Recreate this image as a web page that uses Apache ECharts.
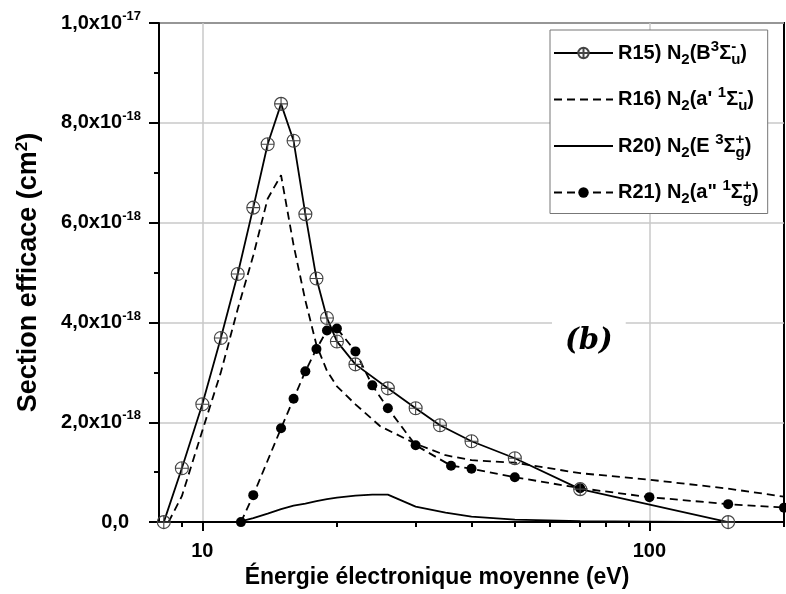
<!DOCTYPE html>
<html>
<head>
<meta charset="utf-8">
<script src="https://cdn.jsdelivr.net/npm/echarts@6/dist/echarts.min.js"></script>
<style>
  html, body { margin: 0; padding: 0; background: #fff; }
  #chart { width: 786px; height: 594px; }
</style>
</head>
<body>
<div id="chart"></div>
<script>
// energies (eV) and cross sections (units of 1e-18 cm2)
const r15E = [8.2, 9, 10, 11, 12, 13, 14, 15, 16, 17, 18, 19, 20, 22, 26, 30, 34, 40, 50, 70, 150];
const r15S = [0, 1.08, 2.36, 3.69, 4.97, 6.30, 7.57, 8.38, 7.64, 6.17, 4.88, 4.09, 3.62, 3.16, 2.68, 2.28, 1.94, 1.62, 1.28, 0.66, 0];

const r16E = [8.4, 9, 10, 11, 12, 13, 14, 15, 16, 17, 18, 19, 20, 22, 25, 30, 35, 40, 50, 70, 100, 150, 200];
const r16S = [0, 0.52, 1.83, 3.0, 4.27, 5.34, 6.48, 6.95, 5.55, 4.44, 3.55, 3.03, 2.72, 2.36, 1.92, 1.57, 1.34, 1.24, 1.19, 0.98, 0.85, 0.67, 0.51];

const r20E = [12, 13, 14, 15, 16, 17, 18, 19, 20, 22, 24, 26, 30, 35, 40, 50, 70, 100, 150, 200];
const r20S = [0, 0.08, 0.17, 0.26, 0.33, 0.37, 0.42, 0.46, 0.49, 0.53, 0.55, 0.55, 0.31, 0.19, 0.11, 0.05, 0.02, 0.01, 0, 0];

const r21E = [12.2, 13, 15, 16, 17, 18, 19, 20, 22, 24, 26, 30, 36, 40, 50, 70, 100, 150, 200];
const r21S = [0, 0.54, 1.88, 2.47, 3.02, 3.47, 3.84, 3.88, 3.42, 2.74, 2.28, 1.54, 1.13, 1.07, 0.90, 0.68, 0.50, 0.36, 0.29];

const xMajor = [10, 100];
const xMinor = [9, 20, 30, 40, 50, 60, 70, 80, 90, 200];

const legendText = {
  R15: '{t|R15) N}{sb|2}{t|(B}{sp|3}{t|Σ}{sp0|-}{sb|u}{t|)}',
  R16: "{t|R16) N}{sb|2}{t|(a' }{sp|1}{t|Σ}{sp0|-}{sb|u}{t|)}",
  R20: '{t|R20) N}{sb|2}{t|(E }{sp|3}{t|Σ}{sp0|+}{sb|g}{t|)}',
  R21: '{t|R21) N}{sb|2}{t|(a" }{sp|1}{t|Σ}{sp0|+}{sb|g}{t|)}'
};

function pairs(xs, ys) {
  return xs.map((x, i) => [x, ys[i]]);
}

const FONT = 'Liberation Sans';
const circlePlus = 'path://M10,0A10,10,0,1,1,10,20A10,10,0,1,1,10,0ZM10,0L10,20M0,10L20,10';

var myChart = echarts.init(document.getElementById('chart'));
var option = {
  animation: false,
  backgroundColor: '#fff',
  grid: {
    left: 159, right: 2, top: 23, bottom: 67,
    show: true, borderColor: '#000', borderWidth: 2
  },
  legend: {
    orient: 'vertical',
    left: 550, top: 30,
    padding: [9, 9, 7, 3],
    itemGap: 18.5,
    itemWidth: 59,
    itemHeight: 13,
    borderColor: '#777',
    borderWidth: 1,
    backgroundColor: '#fff',
    data: ['R15', 'R16', 'R20', 'R21'],
    formatter: name => legendText[name],
    textStyle: {
      color: '#000',
      rich: {
        t: { fontFamily: FONT, fontSize: 20, fontWeight: 'bold', lineHeight: 28, color: '#000' },
        sb: { fontFamily: FONT, fontSize: 15, fontWeight: 'bold', lineHeight: 14, verticalAlign: 'bottom', color: '#000' },
        sp: { fontFamily: FONT, fontSize: 15, fontWeight: 'bold', lineHeight: 14, verticalAlign: 'top', color: '#000' },
        sp0: { fontFamily: FONT, fontSize: 15, fontWeight: 'bold', lineHeight: 14, verticalAlign: 'top', width: 0, color: '#000' }
      }
    }
  },
  xAxis: [
    {
      type: 'log',
      logBase: 10,
      min: 8,
      max: 200,
      name: 'Énergie électronique moyenne (eV)',
      nameLocation: 'middle',
      nameGap: 39,
      nameTextStyle: { fontFamily: FONT, fontSize: 23, fontWeight: 'bold', color: '#000', padding: [0, 69, 0, 0] },
      axisLine: { lineStyle: { color: '#000', width: 2 } },
      axisTick: { inside: false, length: 9, customValues: xMajor, lineStyle: { color: '#000', width: 2 } },
      axisLabel: {
        customValues: xMajor,
        margin: 19,
        formatter: v => String(v),
        fontFamily: FONT, fontSize: 20, fontWeight: 'bold', color: '#000'
      },
      splitLine: { show: true, lineStyle: { color: '#c8c8c8', width: 1.5 } }
    },
    {
      // minor ticks only
      type: 'log',
      logBase: 10,
      min: 8,
      max: 200,
      position: 'bottom',
      axisLine: { show: false },
      axisTick: { inside: false, length: 5, customValues: xMinor, lineStyle: { color: '#000', width: 2 } },
      axisLabel: { show: false },
      splitLine: { show: false }
    }
  ],
  yAxis: {
    type: 'value',
    min: 0,
    max: 10,
    interval: 2,
    name: '{a|Section efficace (cm}{s|2}{a|)}',
    nameLocation: 'middle',
    nameGap: 115,
    nameTextStyle: {
      rich: {
        a: { fontFamily: FONT, fontSize: 27, fontWeight: 'bold', color: '#000', lineHeight: 30 },
        s: { fontFamily: FONT, fontSize: 17, fontWeight: 'bold', color: '#000', lineHeight: 16, verticalAlign: 'top' }
      }
    },
    axisLine: { show: true, lineStyle: { color: '#000', width: 2 } },
    axisTick: { show: true, inside: false, length: 10, lineStyle: { color: '#000', width: 2 } },
    minorTick: { show: true, splitNumber: 2, length: 5, lineStyle: { color: '#000', width: 2 } },
    axisLabel: {
      margin: 18,
      formatter: function (v) {
        if (v === 0) return '{z|0,0}';
        if (v === 10) return '{m|1,0x10}{e|-17}';
        return '{m|' + v.toFixed(1).replace('.', ',') + 'x10}{e|-18}';
      },
      rich: {
        m: { fontFamily: FONT, fontSize: 20, fontWeight: 'bold', color: '#000', lineHeight: 26 },
        e: { fontFamily: FONT, fontSize: 13, fontWeight: 'bold', color: '#000', lineHeight: 13, verticalAlign: 'top' },
        z: { fontFamily: FONT, fontSize: 20, fontWeight: 'bold', color: '#000', lineHeight: 26, padding: [0, 12, 0, 0] }
      }
    },
    splitLine: { show: true, lineStyle: { color: '#c8c8c8', width: 1.5 } }
  },
  graphic: [
    {
      type: 'text',
      left: 552,
      top: 319,
      z: 5,
      style: {
        text: '(b)',
        font: 'italic bold 29px "DejaVu Serif"',
        fill: '#000',
        backgroundColor: '#fff',
        padding: [8, 13, 1, 13]
      }
    }
  ],
  series: [
    {
      name: 'R15',
      type: 'line',
      data: pairs(r15E, r15S),
      symbol: circlePlus,
      symbolSize: 13,
      lineStyle: { color: '#000', width: 1.8, type: 'solid' },
      itemStyle: { color: 'rgba(0,0,0,0)', borderColor: '#444', borderWidth: 1.1 },
      z: 4
    },
    {
      name: 'R16',
      type: 'line',
      data: pairs(r16E, r16S),
      symbol: 'none',
      showSymbol: false,
      lineStyle: { color: '#000', width: 1.8, type: [8, 5] },
      itemStyle: { color: 'rgba(0,0,0,0)' },
      z: 3
    },
    {
      name: 'R20',
      type: 'line',
      data: pairs(r20E, r20S),
      symbol: 'none',
      showSymbol: false,
      lineStyle: { color: '#000', width: 1.8, type: 'solid' },
      itemStyle: { color: 'rgba(0,0,0,0)' },
      z: 3
    },
    {
      name: 'R21',
      type: 'line',
      data: pairs(r21E, r21S),
      symbol: 'circle',
      symbolSize: 10,
      lineStyle: { color: '#000', width: 1.8, type: [8, 5] },
      itemStyle: { color: '#000' },
      z: 3
    }
  ]
};
myChart.setOption(option);
</script>
</body>
</html>
